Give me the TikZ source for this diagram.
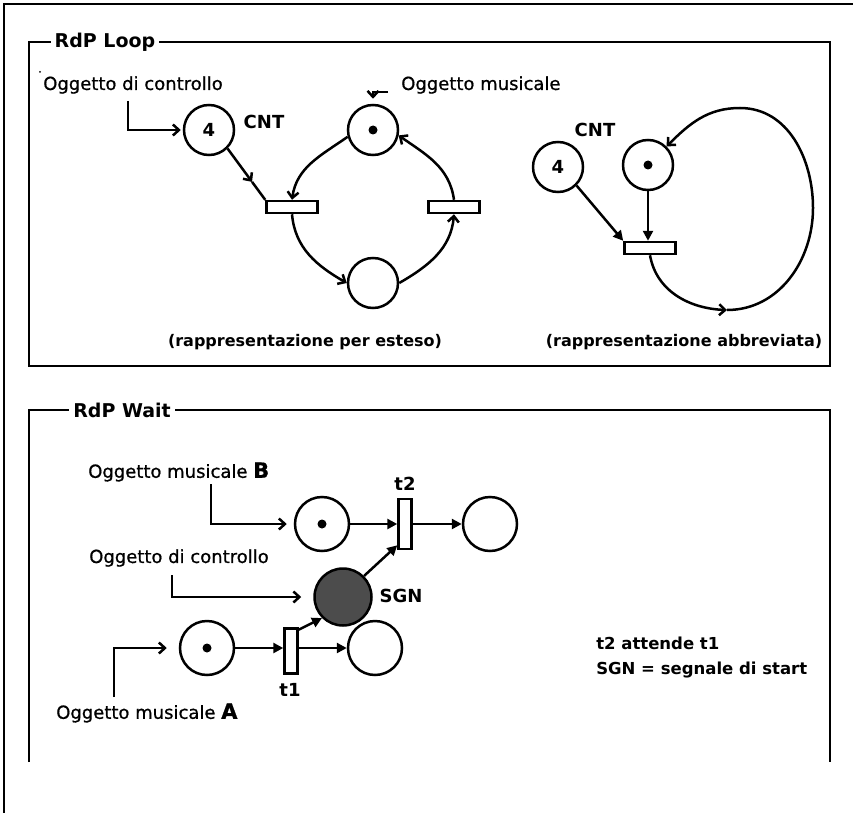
\documentclass[tikz,border=0pt]{standalone}
\usepackage{fontspec}
\setmainfont{DejaVu Sans}
\newfontfamily\labfont{DejaVu Sans}[FakeBold=0.8]
\usetikzlibrary{arrows.meta,calc}
\begin{document}
\begin{tikzpicture}[x=1pt,y=-1pt,line width=2.5pt,
  place/.style={circle,draw,minimum size=50pt,inner sep=0pt,line width=2.5pt},
  placeb/.style={place,minimum size=54pt},
  trh/.style={draw,minimum width=51pt,minimum height=12pt,inner sep=0pt,line width=2.5pt},
  trv/.style={draw,minimum width=13pt,minimum height=50pt,inner sep=0pt,line width=2.5pt},
  tok/.style={circle,fill,inner sep=0pt,minimum size=9pt},
  lab/.style={font=\labfont\fontsize{18}{20}\selectfont,inner sep=0pt},
  blab/.style={font=\bfseries\fontsize{18}{20}\selectfont,inner sep=0pt},
  slab/.style={font=\bfseries\fontsize{16}{18}\selectfont,inner sep=0pt},
  nlab/.style={font=\bfseries\fontsize{16.5}{18}\selectfont,inner sep=0pt},
  ttl/.style={font=\bfseries\fontsize{19}{21}\selectfont,fill=white,inner xsep=4pt,inner ysep=1pt},
  sarr/.style={-{Straight Barb[length=6pt,width=11pt,line width=2.5pt]}},
  farr/.style={-{Triangle[length=10pt,width=10pt]}}
]
\useasboundingbox (0,0) rectangle (853,813);
% outer frame
\coordinate (o1) at (853,4);
\coordinate (o0) at (4,4);
\coordinate (o2) at (4,813);
\draw (o1) -- (o0) -- (o2);

% ---------- RdP Loop ----------
\draw (29,42) rectangle (830,366);
\node[ttl] (ttlloop) at (105,42) {RdP Loop};
\fill (40,72) circle (1pt);

\node[lab,anchor=west] (lctl) at (42,85) {Oggetto di controllo};
\node[place,font=\bfseries\fontsize{18}{20}\selectfont] (cnt) at (209,130) {4};
\node[blab] (cntl) at (264,122) {CNT};
\node[place] (ptop) at (373,130) {};
\node[tok] (ktop) at (ptop) {};
\node[lab,anchor=west] (lmus) at (400,85) {Oggetto musicale};
\node[place] (pbot) at (373,283) {};
\node[trh] (tl) at (292,207) {};
\node[trh] (tr) at (454,207) {};
\node[slab] (lest) at (305,342) {(rappresentazione per esteso)};

\coordinate (c1) at (128,101);
\draw[sarr,shorten >=2pt] (c1) |- (cnt.west);
\coordinate (c2) at (388,92);
\draw[sarr,shorten >=5pt] (c2) -| (ptop.north);

\draw[sarr] (ptop.195) to[out=215,in=82] (tl.north);
\draw[sarr] (tl.south) to[out=-85,in=150] (pbot.west);
\draw[sarr] (pbot.east) to[out=30,in=-95] (tr.south);
\draw[sarr] (tr.north) to[out=98,in=-35] (ptop.-12);

\coordinate (cm) at ($(cnt.-45)!0.65!(tl.165)$);
\draw[sarr] (cnt.-45) -- (cm);
\draw (cm) -- (tl.165);

% abbreviated
\node[place,font=\bfseries\fontsize{18}{20}\selectfont] (cnt2) at (558,167) {4};
\node[blab] (cnt2l) at (595,130) {CNT};
\node[place] (pd) at (648,165) {};
\node[tok] (kd) at (pd) {};
\node[trh] (tt) at (650,248) {};
\draw[farr] (cnt2.-45) -- (tt.165);
\draw[farr] (pd.south) -- (pd.south |- tt.north);
\coordinate (lb) at (727,310);
\coordinate (lr) at (813,208);
\coordinate (lt) at (740,108);
\draw[sarr] (tt.south) to[out=-80,in=178] (lb);
\draw[sarr] (lb) to[out=0,in=-90] (lr) to[out=90,in=0] (lt) to[out=180,in=45] (pd.45);
\node[slab] (labb) at (684,342) {(rappresentazione abbreviata)};

% ---------- RdP Wait ----------
\draw (29,762) -- (29,410) -- (830,410) -- (830,762);
\node[ttl] (ttlwait) at (122,410) {RdP Wait};

\node[lab,anchor=west] (lmB) at (87,472) {Oggetto musicale {\bfseries\fontsize{21}{22}\selectfont B}};
\node[placeb] (pB) at (322,524) {};
\node[tok] (kB) at (pB) {};
\node[trv] (t2) at (405,524) {};
\node[blab] (t2l) at (405,484) {t2};
\node[placeb] (pB2) at (490,524) {};
\coordinate (cB) at (211,484);
\draw[sarr,shorten >=7pt] (cB) |- (pB.west);
\draw[farr] (pB.east) -- (t2.west);
\draw[farr] (t2.east) -- (pB2.west);

\node[lab,anchor=west] (lc2) at (88,558) {Oggetto di controllo};
\node[place,minimum size=57pt,fill=black!70] (sgn) at (343,597) {};
\node[blab] (sgnl) at (401,596) {SGN};
\coordinate (cC) at (172,575);
\draw[sarr,shorten >=12pt] (cC) |- (sgn.west);
\draw[farr] (sgn.45) -- (t2.250);

\node[placeb] (pA) at (207,648) {};
\node[tok] (kA) at (pA) {};
\node[trv,minimum height=45pt] (t1) at (291,651) {};
\node[blab] (t1l) at (290,690) {t1};
\node[placeb] (pA2) at (375,648) {};
\coordinate (cA) at (114,697);
\draw[sarr,shorten >=12pt] (cA) |- (pA.west);
\node[lab,anchor=west] (lmA) at (55,713) {Oggetto musicale {\bfseries\fontsize{21}{22}\selectfont A}};
\draw[farr] (pA.east) -- (pA.east -| t1.west);
\draw[farr] (pA2.west -| t1.east) -- (pA2.west);
\draw[farr] (t1.70) -- (sgn.225);

\node[nlab,anchor=west] (n1) at (595,643) {t2 attende t1};
\node[nlab,anchor=west] (n2) at (595,670) {SGN = segnale di start};
\end{tikzpicture}
\end{document}
